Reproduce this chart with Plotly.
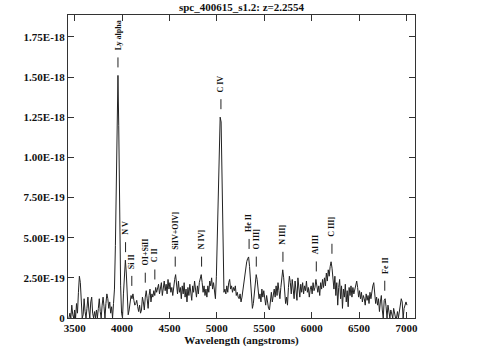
import plotly.graph_objects as go

# ---------------- data ----------------
wavelength = [
    3440, 3450, 3460, 3470, 3480, 3490, 3500, 3510, 3520, 3530, 3540, 3550, 3560, 3570, 3580,
    3590, 3600, 3610, 3620, 3630, 3640, 3650, 3660, 3670, 3680, 3690, 3700, 3710, 3720, 3730,
    3740, 3750, 3760, 3770, 3780, 3790, 3800, 3810, 3820, 3830, 3840, 3850, 3860, 3870, 3880,
    3890, 3900, 3910, 3920, 3930, 3940, 3950, 3957, 3965, 3975, 3985, 3995, 4005, 4015, 4025,
    4035, 4045, 4055, 4065, 4075, 4085, 4095, 4105, 4115, 4125, 4135, 4145, 4155, 4165, 4175,
    4185, 4195, 4205, 4215, 4225, 4235, 4245, 4255, 4265, 4275, 4285, 4295, 4305, 4315, 4325,
    4335, 4345, 4355, 4365, 4375, 4385, 4395, 4405, 4415, 4425, 4435, 4445, 4455, 4465, 4475,
    4485, 4495, 4505, 4515, 4525, 4535, 4545, 4555, 4565, 4575, 4585, 4595, 4605, 4615, 4625,
    4635, 4645, 4655, 4665, 4675, 4685, 4695, 4705, 4715, 4725, 4735, 4745, 4755, 4765, 4775,
    4785, 4795, 4805, 4815, 4825, 4835, 4845, 4855, 4865, 4875, 4885, 4895, 4905, 4915, 4925,
    4935, 4945, 4955, 4965, 4975, 4985, 4995, 5005, 5015, 5025, 5035, 5045, 5055, 5065, 5075,
    5085, 5095, 5105, 5115, 5125, 5135, 5145, 5155, 5165, 5175, 5185, 5195, 5205, 5215, 5225,
    5235, 5245, 5255, 5265, 5275, 5285, 5295, 5305, 5315, 5325, 5335, 5345, 5355, 5365, 5375,
    5385, 5395, 5405, 5415, 5425, 5435, 5445, 5455, 5465, 5475, 5485, 5495, 5505, 5515, 5525,
    5535, 5545, 5555, 5565, 5575, 5585, 5595, 5605, 5615, 5625, 5635, 5645, 5655, 5665, 5675,
    5685, 5695, 5705, 5715, 5725, 5735, 5745, 5755, 5765, 5775, 5785, 5795, 5805, 5815, 5825,
    5835, 5845, 5855, 5865, 5875, 5885, 5895, 5905, 5915, 5925, 5935, 5945, 5955, 5965, 5975,
    5985, 5995, 6005, 6015, 6025, 6035, 6045, 6055, 6065, 6075, 6085, 6095, 6105, 6115, 6125,
    6135, 6145, 6155, 6165, 6175, 6185, 6195, 6205, 6215, 6225, 6235, 6245, 6255, 6265, 6275,
    6285, 6295, 6305, 6315, 6325, 6335, 6345, 6355, 6365, 6375, 6385, 6395, 6405, 6415, 6425,
    6435, 6445, 6455, 6465, 6475, 6485, 6495, 6505, 6515, 6525, 6535, 6545, 6555, 6565, 6575,
    6585, 6595, 6605, 6615, 6625, 6635, 6645, 6655, 6665, 6675, 6685, 6695, 6705, 6715, 6725,
    6735, 6745, 6755, 6765, 6775, 6785, 6795, 6805, 6815, 6825, 6835, 6845, 6855, 6865, 6875,
    6885, 6895, 6905, 6915, 6925, 6935, 6945, 6955, 6965, 6975, 6985, 6995, 7005,
]

# flux in units of 1e-19
flux_e19 = [
    0.0, 0.3, 0.0, 0.8, 0.2, 0.0, 0.5, 0.0, 0.9, 0.3, 1.6, 2.6, 2.2, 0.8, 0.0,
    0.2, 1.2, 0.4, 0.0, 0.6, 1.3, 0.5, 0.0, 1.0, 1.3, 0.3, 0.0, 0.4, 0.0, 0.5,
    0.0, 0.6, 1.2, 0.4, 0.0, 0.8, 1.3, 0.7, 0.0, 0.9, 1.5, 1.2, 0.6, 1.0, 0.3,
    0.7, 0.0, 0.9, 1.8, 4.5, 9.5, 14.0, 15.1, 12.0, 6.0, 2.0, 0.3, 0.0, 1.5, 3.0,
    3.6, 2.8, 1.2, 0.2, 0.5, 1.0, 1.4, 1.2, 1.5, 1.1, 0.8, 0.9, 1.1, 0.7, 0.4,
    0.8, 0.3, 0.5, 1.3, 1.0, 0.5, 1.3, 1.7, 1.2, 0.6, 1.4, 1.8, 1.0, 1.5, 1.3,
    1.7, 1.4, 1.9, 1.6, 1.8, 2.1, 1.5, 1.8, 2.2, 1.4, 2.0, 2.3, 1.7, 2.1, 1.5,
    2.4, 1.8, 2.2, 1.6, 1.9, 1.4, 2.2, 2.4, 2.7, 2.0, 1.5, 2.3, 1.6, 1.9, 1.2,
    2.0, 1.5, 2.2, 1.3, 1.8, 1.0, 1.9, 1.4, 2.1, 1.5, 1.1, 2.0, 1.6, 2.3, 1.7,
    1.3, 2.0, 1.5, 2.2, 2.4, 2.7, 2.2, 1.6, 2.0, 1.4, 1.8, 1.3, 2.0, 1.6, 2.3,
    2.0, 2.5, 1.8, 2.2, 1.5, 1.2, 2.6, 5.0, 8.5, 11.5, 12.5, 12.2, 8.0, 3.5, 1.6,
    1.8, 1.5, 2.0, 1.6, 2.2, 2.4, 1.8, 2.0, 1.6, 1.9, 1.7, 2.0, 1.4, 1.6, 1.3,
    1.2, 1.5, 1.0, 1.3, 1.8, 2.3, 2.8, 3.2, 3.5, 3.7, 3.8, 3.2, 2.2, 1.2, 0.6,
    0.9, 1.6, 2.3, 2.7, 2.4, 1.8, 1.2, 1.5, 1.0, 1.8, 1.3, 1.7, 1.0, 0.8, 1.4,
    0.9, 0.6, 0.5, 1.2, 1.6, 1.0, 1.5, 1.8, 1.3, 2.0, 1.4, 2.2, 1.7, 1.2, 1.9,
    2.6, 3.0, 2.5, 1.6, 0.9, 1.3, 0.8, 1.9, 2.6, 2.2, 1.5, 2.4, 1.8, 1.2, 2.3,
    1.7, 1.1, 2.5, 1.8, 1.3, 2.1, 1.6, 2.2, 1.5, 2.0, 1.7, 2.3, 1.6, 1.9, 1.3,
    1.8, 2.0, 1.5, 2.2, 1.7, 1.9, 2.4, 2.1, 1.6, 2.0, 1.4, 2.2, 1.8, 2.4, 1.9,
    2.5, 2.0, 2.8, 2.3, 3.0, 2.6, 3.2, 3.5, 3.1, 2.4, 1.8, 2.6, 1.4, 2.2, 0.8,
    1.9, 2.4, 1.2, 2.0, 0.6, 1.8, 1.3, 2.1, 1.0, 1.7, 0.7, 1.9, 1.4, 2.0, 1.3,
    1.9, 1.5, 1.8, 2.1, 2.3, 1.9, 1.3, 1.7, 1.2, 1.6, 1.0, 1.4, 1.2, 0.8, 1.5,
    1.1, 1.4, 0.9, 1.6, 1.2, 1.8, 2.0, 2.2, 1.4, 0.9, 1.3, 0.8, 1.2, 0.4, 1.0,
    1.4, 0.5, 0.0, 1.1, 1.2, 0.7, 0.0, 0.8, 0.3, 0.0, 0.5, 0.2, 0.0, 0.6, 0.3,
    0.0, 0.0, 0.4, 0.0, 0.5, 0.9, 1.2, 1.0, 0.0, 0.6, 0.9, 1.0, 0.8,
]

line_names = ["Ly alpha", "N V", "Si II", "OI+SiII", "C II", "SiIV+OIV]", "N IV]",
              "C IV", "He II", "O III]", "N III]", "Al III", "C III]", "Fe II"]
line_waves = [3957, 4037, 4103, 4245, 4346, 4561, 4839,
              5043, 5340, 5416, 5697, 6049, 6214, 6771]

y_tickvals_e19 = [0, 2.5, 5.0, 7.5, 10.0, 12.5, 15.0, 17.5]
y_ticktext = ["0", "2.50E-19", "5.00E-19", "7.50E-19", "1.00E-18", "1.25E-18", "1.50E-18", "1.75E-18"]
x_tickvals = [3500, 4000, 4500, 5000, 5500, 6000, 6500, 7000]

title_text = "spc_400615_s1.2: z=2.2554"
x_title = "Wavelength (angstroms)"

# ---------------- figure ----------------
flux = [v * 1e-19 for v in flux_e19]
FONT = "Liberation Serif"

fig = go.Figure()
fig.add_trace(go.Scatter(x=wavelength, y=flux, mode="lines",
                         line=dict(color="#222222", width=1), hoverinfo="skip",
                         showlegend=False))

for name, w in zip(line_names, line_waves):
    local = [f for lam, f in zip(wavelength, flux) if abs(lam - w) <= 20]
    base = max(local)
    fig.add_shape(type="line", xref="x", yref="y", x0=w, x1=w,
                  ysizemode="pixel", yanchor=base, y0=8, y1=18,
                  line=dict(color="#222222", width=1))
    fig.add_annotation(x=w, y=base, xref="x", yref="y", text="<b>%s</b>" % name,
                       showarrow=False, textangle=-90, yanchor="bottom",
                       xanchor="center", yshift=23,
                       font=dict(family=FONT, size=8, color="#111111"))

axis_common = dict(showgrid=False, zeroline=False, showline=True, mirror="allticks",
                   linecolor="#333333", linewidth=1, ticks="inside", ticklen=6,
                   tickcolor="#333333", tickwidth=1,
                   tickfont=dict(family=FONT, size=11, color="#111111"))

fig.update_xaxes(range=[3430, 7090], tickvals=x_tickvals,
                 ticktext=["<b>%d</b>" % v for v in x_tickvals],
                 title=dict(text="<b>%s</b>" % x_title, standoff=2,
                            font=dict(family=FONT, size=11, color="#111111")),
                 **axis_common)
fig.update_yaxes(range=[0, 1.886e-18], tickvals=[v * 1e-19 for v in y_tickvals_e19],
                 ticktext=["<b>%s</b>" % t for t in y_ticktext],
                 **axis_common)

fig.update_layout(
    width=483, height=358,
    margin=dict(l=68, r=68, t=15, b=40),
    paper_bgcolor="white", plot_bgcolor="white",
    title=dict(text="<b>%s</b>" % title_text, x=0.5, xanchor="center",
               y=1 - 7 / 358, yanchor="middle", yref="container",
               font=dict(family=FONT, size=11, color="#111111")),
)

fig.write_html("out.html", config={"displayModeBar": False},
               post_script="document.body.style.margin='0';document.body.style.padding='0';")
